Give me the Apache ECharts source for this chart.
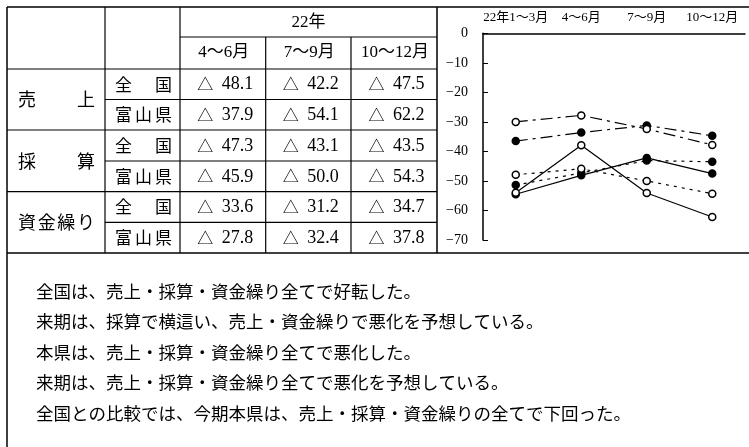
<!DOCTYPE html>
<html>
<head>
<meta charset="utf-8">
<script src="https://cdn.jsdelivr.net/npm/echarts@6/dist/echarts.min.js"></script>
<style>
html,body{margin:0;padding:0;background:#fff;}
#c{width:749px;height:447px;}
</style>
</head>
<body>
<div id="c"></div>
<script>
// ---- data ----
const categories = ['22年1～3月', '4～6月', '7～9月', '10～12月'];
const salesNational   = [-54.5, -48.1, -42.2, -47.5];
const salesToyama     = [-54.0, -37.9, -54.1, -62.2];
const profitNational  = [-51.4, -47.3, -43.1, -43.5];
const profitToyama    = [-47.9, -45.9, -50.0, -54.3];
const fundsNational   = [-36.5, -33.6, -31.2, -34.7];
const fundsToyama     = [-30.0, -27.8, -32.4, -37.8];
const yTicks = [0, -10, -20, -30, -40, -50, -60, -70];
const tableYear = '22年';
const tableCols = ['4～6月', '7～9月', '10～12月'];
const rowGroups = ['売上', '採算', '資金繰り'];
const regions = ['全国', '富山県'];
const notes = [
  '全国は、売上・採算・資金繰り全てで好転した。',
  '来期は、採算で横這い、売上・資金繰りで悪化を予想している。',
  '本県は、売上・採算・資金繰り全てで悪化した。',
  '来期は、売上・採算・資金繰り全てで悪化を予想している。',
  '全国との比較では、今期本県は、売上・採算・資金繰りの全てで下回った。'
];

// ---- layout ----
const SERIF = "'Liberation Serif','DejaVu Serif','Noto Sans CJK JP'";
const CJK = "'Noto Sans CJK JP'";
const colX = [7, 105, 180, 265.7, 351, 437];
const rowY = [8, 37, 69, 99.5, 130, 161, 191.7, 222.3, 253];
const black = '#000';

const g = [];
function line(x1, y1, x2, y2, w) {
  g.push({type: 'line', shape: {x1, y1, x2, y2}, style: {stroke: black, lineWidth: w || 1.2}, silent: true});
}
function text(t, x, y, size, font, align) {
  g.push({type: 'text', x, y, style: {text: t, fill: black, font: size + 'px ' + font,
    textAlign: align || 'center', textVerticalAlign: 'middle'}, silent: true});
}
function justify(t, x0, x1, y, size, font) {
  const chars = Array.from(t);
  const n = chars.length;
  const step = (x1 - x0 - size) / (n - 1);
  chars.forEach((ch, i) => text(ch, x0 + size / 2 + i * step, y, size, font, 'center'));
}

// outer frame
line(7, 7, 749, 7, 1.5);
line(7, 7, 7, 447, 1.5);
line(7, 253, 749, 253, 1.5);
// table verticals
line(105, 7, 105, 253);
line(180, 7, 180, 253);
line(265.7, 37, 265.7, 253);
line(351, 37, 351, 253);
line(437, 7, 437, 253, 1.5);
// table horizontals
line(180, 37, 437, 37);
line(7, 69, 437, 69);
for (let i = 3; i < 8; i++) {
  const full = (i % 2 === 0);
  line(full ? 7 : 105, rowY[i], 437, rowY[i]);
}
// header texts
text(tableYear, (180 + 437) / 2, 22.5, 17, SERIF);
tableCols.forEach((c, i) => text(c, (colX[i + 2] + colX[i + 3]) / 2 + 1, 53, 17, SERIF));
// rows
const tableSeries = [[salesNational, salesToyama], [profitNational, profitToyama], [fundsNational, fundsToyama]];
rowGroups.forEach((gname, gi) => {
  const yc = (rowY[2 + gi * 2] + rowY[4 + gi * 2]) / 2;
  justify(gname, 18, 95, yc, 18, CJK);
  regions.forEach((r, ri) => {
    const y0 = rowY[2 + gi * 2 + ri], y1 = rowY[3 + gi * 2 + ri];
    const yy = (y0 + y1) / 2;
    justify(r, 115, 172, yy, 17, CJK);
    const vals = tableSeries[gi][ri];
    for (let k = 1; k <= 3; k++) {
      const v = vals[k];
      const cx = (colX[k + 1] + colX[k + 2]) / 2 + 2.5;
      const left = cx - 27.5;
      if (v < 0) text('△', left + 7.5, yy, 16, CJK, 'center');
      text(Math.abs(v).toFixed(1), left + 24, yy + 0.5, 18, SERIF, 'left');
    }
  });
});
// notes
notes.forEach((n, i) => text(n, 36, 291 + i * 30.5, 17.5, CJK, 'left'));

// ---- chart series ----
function mk(name, data, filled, dash) {
  return {
    name, type: 'line', data,
    symbol: 'circle', symbolSize: 7,
    itemStyle: {color: filled ? black : '#fff', borderColor: black, borderWidth: 1.5},
    lineStyle: {color: black, width: 1.2, type: dash},
    emphasis: {disabled: true},
    animation: false
  };
}
const dotted = [3, 5];
const dashDot = [12, 5, 3, 5];

const chart = echarts.init(document.getElementById('c'), null, {renderer: 'canvas'});
chart.setOption({
  animation: false,
  backgroundColor: '#fff',
  grid: {left: 483, right: 4, top: 33.3, bottom: 207},
  xAxis: {
    type: 'category', data: categories, position: 'top', boundaryGap: true,
    axisLine: {onZero: false, lineStyle: {color: black, width: 1.5}},
    axisTick: {inside: true, length: 4, lineStyle: {color: black}},
    axisLabel: {color: black, fontSize: 13, margin: 9, fontFamily: SERIF, interval: 0}
  },
  yAxis: {
    type: 'value', min: -70, max: 0, interval: 10,
    axisLine: {show: true, lineStyle: {color: black, width: 1.5}},
    axisTick: {show: true, inside: true, length: 5, lineStyle: {color: black}},
    splitLine: {show: false},
    axisLabel: {color: black, fontSize: 14, margin: 15, fontFamily: SERIF,
      formatter: v => yTicks.includes(v) ? String(v).replace('-', '−') : ''}
  },
  series: [
    mk('売上 全国', salesNational, true, 'solid'),
    mk('売上 富山県', salesToyama, false, 'solid'),
    mk('採算 全国', profitNational, true, dotted),
    mk('採算 富山県', profitToyama, false, dotted),
    mk('資金繰り 全国', fundsNational, true, dashDot),
    mk('資金繰り 富山県', fundsToyama, false, dashDot)
  ],
  graphic: {elements: g}
});
</script>
</body>
</html>
